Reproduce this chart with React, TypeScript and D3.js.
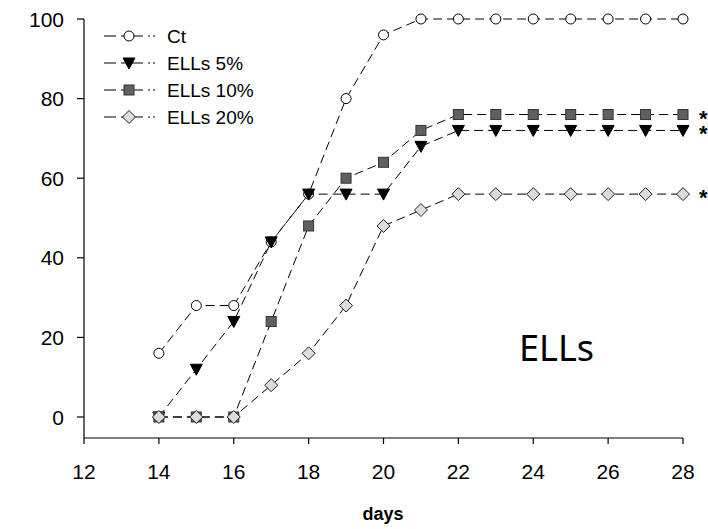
import React from "react";
import * as d3 from "d3";

const days = [14, 15, 16, 17, 18, 19, 20, 21, 22, 23, 24, 25, 26, 27, 28];
const ct = [16, 28, 28, 44, 56, 80, 96, 100, 100, 100, 100, 100, 100, 100, 100];
const ells5 = [0, 12, 24, 44, 56, 56, 56, 68, 72, 72, 72, 72, 72, 72, 72];
const ells10 = [0, 0, 0, 24, 48, 60, 64, 72, 76, 76, 76, 76, 76, 76, 76];
const ells20 = [0, 0, 0, 8, 16, 28, 48, 52, 56, 56, 56, 56, 56, 56, 56];
const xTicks = [12, 14, 16, 18, 20, 22, 24, 26, 28];
const yTicks = [0, 20, 40, 60, 80, 100];
const seriesNames = ["Ct", "ELLs 5%", "ELLs 10%", "ELLs 20%"];
const starredSeries = ["ELLs 10%", "ELLs 5%", "ELLs 20%"];

const W = 708;
const H = 529;
const FONT = "Liberation Sans, Arial, sans-serif";

const x = d3.scaleLinear().domain([12, 28]).range([84, 683]);
const y = d3.scaleLinear().domain([0, 100]).range([417, 19]);

type Kind = "circle" | "triangle" | "square" | "diamond";
const series: { name: string; values: number[]; kind: Kind }[] = [
  { name: seriesNames[0], values: ct, kind: "circle" },
  { name: seriesNames[1], values: ells5, kind: "triangle" },
  { name: seriesNames[2], values: ells10, kind: "square" },
  { name: seriesNames[3], values: ells20, kind: "diamond" },
];

function Marker({ kind, cx, cy }: { kind: Kind; cx: number; cy: number }) {
  if (kind === "circle")
    return <circle cx={cx} cy={cy} r={5} fill="#fff" stroke="#000" strokeWidth={1} />;
  if (kind === "triangle")
    return (
      <path
        d={`M${cx - 6},${cy - 5} L${cx + 6},${cy - 5} L${cx},${cy + 6} Z`}
        fill="#000"
        stroke="#000"
        strokeWidth={1}
      />
    );
  if (kind === "square")
    return (
      <rect x={cx - 5} y={cy - 5} width={10} height={10} fill="#606060" stroke="#333" strokeWidth={1} />
    );
  return (
    <path
      d={`M${cx},${cy - 6.5} L${cx + 6.5},${cy} L${cx},${cy + 6.5} L${cx - 6.5},${cy} Z`}
      fill="#dcdcdc"
      stroke="#222"
      strokeWidth={1}
    />
  );
}

export default function App() {
  const line = d3
    .line<number>()
    .x((_, i) => x(days[i]))
    .y((v) => y(v));

  return (
    <svg width={W} height={H} style={{ position: "absolute", left: 0, top: 0 }} fontFamily={FONT}>
      <rect width={W} height={H} fill="#fff" />
      {/* axes */}
      <line x1={84} x2={84} y1={y(100)} y2={438} stroke="#000" strokeWidth={1.2} />
      <line x1={84} x2={683} y1={438} y2={438} stroke="#000" strokeWidth={1.2} />
      {yTicks.map((t) => (
        <g key={t}>
          <line x1={77} x2={84} y1={y(t)} y2={y(t)} stroke="#000" strokeWidth={1.2} />
          <text x={64} y={y(t) + 7.5} textAnchor="end" fontSize={21}>
            {t}
          </text>
        </g>
      ))}
      {xTicks.map((t) => (
        <g key={t}>
          <line x1={x(t)} x2={x(t)} y1={438} y2={444} stroke="#000" strokeWidth={1.2} />
          <text x={x(t)} y={479} textAnchor="middle" fontSize={21}>
            {t}
          </text>
        </g>
      ))}
      <text x={383} y={520} textAnchor="middle" fontSize={18} fontWeight="bold">
        days
      </text>

      {/* series */}
      {series.map((s) => (
        <g key={s.name}>
          <path d={line(s.values) || ""} fill="none" stroke="#000" strokeWidth={1} strokeDasharray="9,5" />
          {s.values.map((v, i) => (
            <Marker key={i} kind={s.kind} cx={x(days[i])} cy={y(v)} />
          ))}
        </g>
      ))}

      {/* significance marks */}
      {starredSeries.map((name) => {
        const s = series.find((d) => d.name === name)!;
        const v = s.values[s.values.length - 1];
        return (
          <text key={name} x={699} y={y(v) + 11} fontSize={22} fontWeight="bold">
            *
          </text>
        );
      })}

      {/* legend */}
      {series.map((s, i) => {
        const cy = 36 + i * 27;
        return (
          <g key={s.name}>
            <line x1={104} x2={155} y1={cy} y2={cy} stroke="#000" strokeWidth={1} strokeDasharray="12,5,22,5,2,3" />
            <Marker kind={s.kind} cx={129} cy={cy} />
            <text x={167} y={cy + 7} fontSize={19}>
              {s.name}
            </text>
          </g>
        );
      })}

      <text x={519} y={361} fontSize={36} fontFamily="Noto Sans, Open Sans, sans-serif">
        ELLs
      </text>
    </svg>
  );
}
